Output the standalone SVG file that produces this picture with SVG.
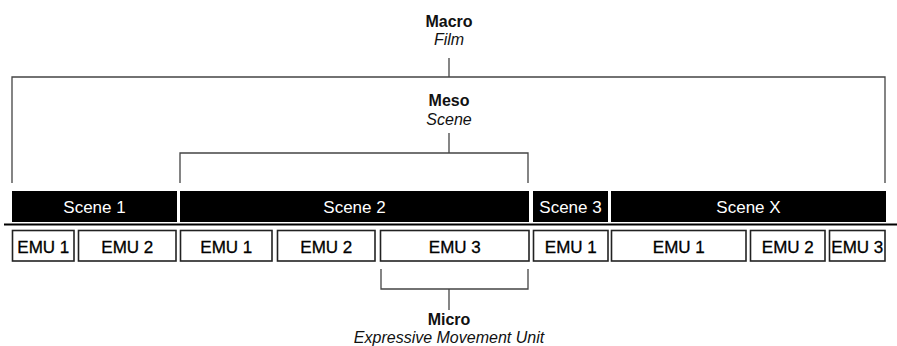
<svg xmlns="http://www.w3.org/2000/svg" width="897" height="346" viewBox="0 0 897 346">
  <style>
    .lvl { font-family: "Liberation Sans", Arial, sans-serif; font-size: 16px; fill: #111; text-anchor: middle; }
    .b { font-weight: bold; }
    .i { font-style: italic; }
    .bar { fill: #000; }
    .bar-t { font-family: "Liberation Sans", Arial, sans-serif; font-size: 17px; fill: #fff; text-anchor: middle; }
    .emu { fill: #fff; stroke: #222; stroke-width: 1.6; }
    .emu-t { font-family: "Liberation Sans", Arial, sans-serif; font-size: 17px; fill: #000; stroke: #000; stroke-width: 0.3; text-anchor: middle; }
    .br { fill: none; stroke: #444; stroke-width: 1.3; }
  </style>

  <!-- level labels -->
  <g id="macro">
    <text class="lvl b" x="449" y="27">Macro</text>
    <text class="lvl i" x="449" y="45">Film</text>
  </g>
  <g id="meso">
    <text class="lvl b" x="449" y="106">Meso</text>
    <text class="lvl i" x="449" y="125">Scene</text>
  </g>
  <g id="micro">
    <text class="lvl b" x="449" y="325">Micro</text>
    <text class="lvl i" x="449" y="343">Expressive Movement Unit</text>
  </g>

  <!-- brackets -->
  <g id="connectors">
    <path class="br" d="M12 183 V77 H885 V183"/>
    <path class="br" d="M449 58 V77"/>
    <path class="br" d="M180 183 V153 H528 V183"/>
    <path class="br" d="M449 133 V153"/>
    <path class="br" d="M381 269 V289 H528 V269"/>
    <path class="br" d="M449 289 V310"/>
  </g>

  <!-- scenes -->
  <g id="scene-1"><rect class="bar" x="12" y="191" width="165" height="31"/><text class="bar-t" x="94.5" y="213">Scene 1</text></g>
  <g id="scene-2"><rect class="bar" x="180" y="191" width="349" height="31"/><text class="bar-t" x="354.5" y="213">Scene 2</text></g>
  <g id="scene-3"><rect class="bar" x="533" y="191" width="75" height="31"/><text class="bar-t" x="570.5" y="213">Scene 3</text></g>
  <g id="scene-x"><rect class="bar" x="611" y="191" width="275" height="31"/><text class="bar-t" x="748.5" y="213">Scene X</text></g>

  <!-- divider -->
  <line id="divider" x1="4" y1="224.5" x2="897" y2="224.5" stroke="#000" stroke-width="2"/>

  <!-- expressive movement units -->
  <g id="s1-emu1"><rect class="emu" x="12.5" y="230.5" width="61.5" height="30.5"/><text class="emu-t" x="43.3" y="252.5">EMU 1</text></g>
  <g id="s1-emu2"><rect class="emu" x="78.5" y="230.5" width="97.5" height="30.5"/><text class="emu-t" x="127.3" y="252.5">EMU 2</text></g>
  <g id="s2-emu1"><rect class="emu" x="180.5" y="230.5" width="91.5" height="30.5"/><text class="emu-t" x="226.3" y="252.5">EMU 1</text></g>
  <g id="s2-emu2"><rect class="emu" x="277.5" y="230.5" width="97.5" height="30.5"/><text class="emu-t" x="326.3" y="252.5">EMU 2</text></g>
  <g id="s2-emu3"><rect class="emu" x="380.5" y="230.5" width="148.5" height="30.5"/><text class="emu-t" x="454.8" y="252.5">EMU 3</text></g>
  <g id="s3-emu1"><rect class="emu" x="533.5" y="230.5" width="74.5" height="30.5"/><text class="emu-t" x="570.8" y="252.5">EMU 1</text></g>
  <g id="sx-emu1"><rect class="emu" x="611.5" y="230.5" width="134.5" height="30.5"/><text class="emu-t" x="678.8" y="252.5">EMU 1</text></g>
  <g id="sx-emu2"><rect class="emu" x="750.5" y="230.5" width="74.5" height="30.5"/><text class="emu-t" x="787.8" y="252.5">EMU 2</text></g>
  <g id="sx-emu3"><rect class="emu" x="829.5" y="230.5" width="55.5" height="30.5"/><text class="emu-t" x="857.3" y="252.5">EMU 3</text></g>
</svg>
